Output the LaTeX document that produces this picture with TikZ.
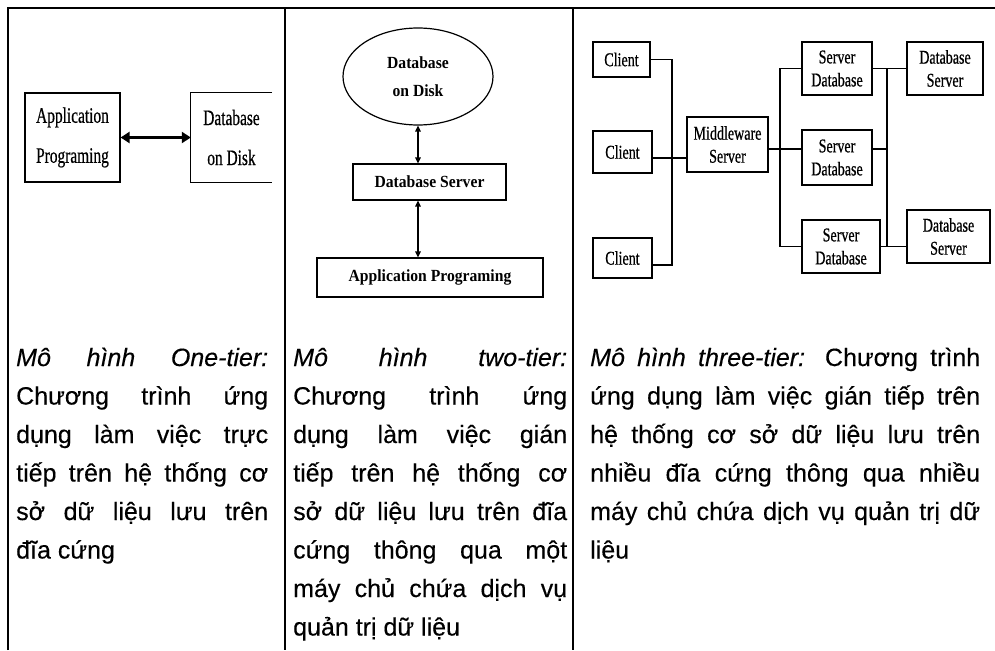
\documentclass[tikz,border=0pt]{standalone}
\usepackage{fontspec}
\setmainfont{Liberation Sans}[FakeBold=0.3]
% condensed serif faces used inside the three small diagrams
\newfontfamily\diagA[FakeStretch=0.70,FakeBold=0.5]{Liberation Serif}
\newfontfamily\diagB[FakeStretch=0.92]{Liberation Serif}
\newfontfamily\diagC[FakeStretch=0.72,FakeBold=0.6]{Liberation Serif}
\usetikzlibrary{arrows.meta,shapes.geometric}

\begin{document}
\begin{tikzpicture}[x=1pt,y=-1pt,
  rule/.style={line width=2pt},
  box/.style={draw,line width=1.2pt,inner sep=0pt,align=center},
  fontA/.style={font=\diagA\fontsize{22}{40}\selectfont},
  fontB/.style={font=\diagB\bfseries\fontsize{17}{28}\selectfont},
  fontC/.style={font=\diagC\fontsize{19.5}{23}\selectfont},
  wire/.style={line width=1.2pt},
  bigarrow/.style={line width=2.5pt,{Triangle[length=9pt,width=11pt]}-{Triangle[length=9pt,width=11pt]}},
  smallarrow/.style={line width=1.3pt,{Triangle[length=6pt,width=5.5pt]}-{Triangle[length=6pt,width=5.5pt]}},
  para/.style={anchor=base west,inner sep=0pt,align=justify,
    font=\fontsize{25}{38.5}\selectfont}
]
\useasboundingbox (0,0) rectangle (995,650);

% ---- table rules ----
\coordinate (tl) at (8,8);
\coordinate (tr) at (995,8);
\draw[rule] (8,650) -- (tl) -- (tr);
\draw[rule] (285,8) -- (285,650);
\draw[rule] (573,8) -- (573,650);

% ---- one-tier ----
\node[box,fontA,minimum width=95pt,minimum height=89pt] (app1) at (72.5,137.5)
  {Application\\Programing};
\node[inner sep=0pt,minimum width=81pt,minimum height=89pt,fontA,align=center] (db1) at (231.5,137.5)
  {Database\\on Disk};
\draw[line width=1.2pt] (db1.north east) -- (db1.north west) -- (db1.south west) -- (db1.south east);
\draw[bigarrow] (app1.east) -- (db1.west);

% ---- two-tier ----
\node[ellipse,draw,line width=1.2pt,inner sep=0pt,minimum width=150pt,minimum height=97pt,
  fontB,align=center] (disk2) at (418,76.5) {Database\\on Disk};
\node[box,fontB,minimum width=153pt,minimum height=36pt] (dbs2) at (429.5,182) {Database Server};
\node[box,fontB,minimum width=226pt,minimum height=39pt] (app2) at (430,277.5) {Application Programing};
\draw[smallarrow] (disk2.south) -- (disk2.south |- dbs2.north);
\draw[smallarrow] (disk2.south |- dbs2.south) -- (disk2.south |- app2.north);

% ---- three-tier ----
\node[box,fontC,minimum width=57pt,minimum height=35pt] (cl1) at (621.5,59.5) {Client};
\node[box,fontC,minimum width=59pt,minimum height=42pt] (cl2) at (622.5,152) {Client};
\node[box,fontC,minimum width=59pt,minimum height=40pt] (cl3) at (622.5,258) {Client};
\node[box,fontC,minimum width=81pt,minimum height=55pt] (mw) at (727.5,144.5) {Middleware\\Server};
\node[box,fontC,minimum width=70pt,minimum height=53pt] (sd1) at (837,68.5) {Server\\Database};
\node[box,fontC,minimum width=70pt,minimum height=55pt] (sd2) at (837,157.5) {Server\\Database};
\node[box,fontC,minimum width=78pt,minimum height=53pt] (sd3) at (841,246.5) {Server\\Database};
\node[box,fontC,minimum width=76pt,minimum height=53pt] (ds1) at (945,68.5) {Database\\Server};
\node[box,fontC,minimum width=83pt,minimum height=53pt] (ds2) at (948.5,236.5) {Database\\Server};

\coordinate (busA) at (672,0);
\coordinate (busB) at (780,0);
\coordinate (busC) at (887,0);

% clients to middleware
\draw[wire] (cl1.east) -| ([yshift=-7pt]cl3.east -| busA) -- ([yshift=-7pt]cl3.east);
\draw[wire] ([yshift=-6pt]cl2.east) -- ([yshift=-6pt]cl2.east -| mw.west);
% middleware to database servers
\draw[wire] ([yshift=-4.5pt]mw.east) -- ([yshift=-4.5pt]mw.east -| sd2.west);
\draw[wire] (sd1.west) -| (sd3.west -| busB) -- (sd3.west);
% database servers to storage servers
\draw[wire] (sd1.east) -- (ds1.west);
\draw[wire] (sd3.east) -- (sd3.east -| ds2.west);
\draw[wire] (sd1.east -| busC) -- (sd3.east -| busC);
\draw[wire] ([yshift=8.5pt]sd2.east) -- ([yshift=8.5pt]sd2.east -| busC);

% ---- captions ----
\node[para,text width=252pt] (t1) at (16,366)
  {\textit{Mô hình One-tier:}\linebreak Chương trình ứng\linebreak dụng làm việc trực\linebreak
   tiếp trên hệ thống cơ\linebreak sở dữ liệu lưu trên\linebreak đĩa cứng};
\node[para,text width=274pt] (t2) at (293,366)
  {\textit{Mô hình two-tier:}\linebreak Chương trình ứng\linebreak dụng làm việc gián\linebreak
   tiếp trên hệ thống cơ\linebreak sở dữ liệu lưu trên đĩa\linebreak cứng thông qua một\linebreak
   máy chủ chứa dịch vụ\linebreak quản trị dữ liệu};
\node[para,text width=390pt] (t3) at (590,366)
  {\textit{Mô hình three-tier:} Chương trình\linebreak ứng dụng làm việc gián tiếp trên\linebreak
   hệ thống cơ sở dữ liệu lưu trên\linebreak nhiều đĩa cứng thông qua nhiều\linebreak
   máy chủ chứa dịch vụ quản trị dữ\linebreak liệu};
\end{tikzpicture}
\end{document}
